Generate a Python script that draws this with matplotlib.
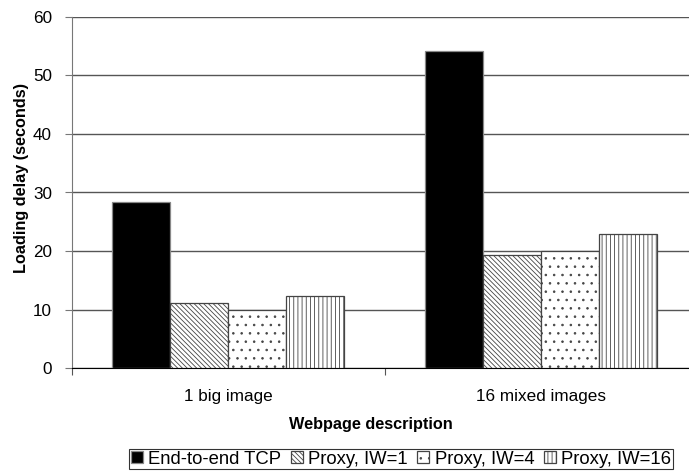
import matplotlib
matplotlib.use("Agg")
import matplotlib.pyplot as plt
import numpy as np

categories = ["1 big image", "16 mixed images"]
series_names = ["End-to-end TCP", "Proxy, IW=1", "Proxy, IW=4", "Proxy, IW=16"]
tcp = [28.4, 54.2]
iw1 = [11.1, 19.3]
iw4 = [9.9, 20.0]
iw16 = [12.4, 22.9]
values = [tcp, iw1, iw4, iw16]

plt.rcParams['font.family'] = ['Liberation Sans', 'DejaVu Sans']
plt.rcParams['hatch.linewidth'] = 0.6

fig = plt.figure(figsize=(6.89, 4.73), dpi=100)
ax = fig.add_axes([71.5/689, 104.7/473, 626/689, 351.6/473])

x = np.arange(len(categories))
w = 0.185
styles = [
    dict(color="black", edgecolor="#888888", hatch=None),
    dict(color="white", edgecolor="#444444", hatch="\\\\\\\\\\\\\\"),
    dict(color="white", edgecolor="#444444", hatch=".."),
    dict(color="white", edgecolor="#444444", hatch="||||"),
]
for i, (vals, name, st) in enumerate(zip(values, series_names, styles)):
    ax.bar(x + (i - 1.5) * w, vals, width=w, label=name, linewidth=0.9,
           zorder=3, **st)

ax.set_xlim(-0.5, 1.5)
ax.set_ylim(0, 60)
ax.set_yticks(np.arange(0, 61, 10))
ax.yaxis.grid(True, color="#555555", linewidth=1.0, zorder=0)
ax.set_axisbelow(True)
for s in ["top", "right"]:
    ax.spines[s].set_visible(False)
ax.spines["left"].set_color("#777777")
ax.spines["bottom"].set_color("black")

ax.set_xticks([-0.5, 0.5, 1.5])
ax.set_xticklabels([])
ax.set_xticks(x, minor=True)
ax.set_xticklabels(categories, minor=True)
ax.tick_params(axis="x", which="minor", length=0, pad=15, labelsize=12.3)
ax.tick_params(axis="x", which="major", length=5, direction="out", color="#555555")
ax.tick_params(axis="y", length=5, direction="out", pad=9, labelsize=12.3, color="#777777")

fig.text(371/689, 1 - 424/473, "Webpage description", ha="center", va="center",
         fontsize=11.7, fontweight="bold")
fig.text(22/689, 1 - 178/473, "Loading delay (seconds)", ha="center", va="center",
         rotation=90, fontsize=11.7, fontweight="bold")

leg = fig.legend(loc="center", bbox_to_anchor=(401/689, 1 - 459/473), ncol=4,
                 fontsize=13.3, frameon=True, fancybox=False, edgecolor="black",
                 handlelength=0.65, handleheight=0.65, handletextpad=0.3,
                 columnspacing=0.5, borderpad=0.1, borderaxespad=0)
leg.get_frame().set_linewidth(0.8)

fig.savefig("out.png", dpi=100)
